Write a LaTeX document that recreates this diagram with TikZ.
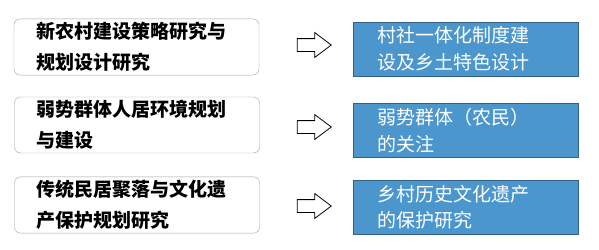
\documentclass[tikz,border=0pt]{standalone}
\usepackage{fontspec}
\usepackage{tikz}
\usetikzlibrary{shapes.arrows}
\newfontfamily\cjk{Noto Sans CJK SC}
\definecolor{boxblue}{RGB}{76,150,206}
\definecolor{boxedge}{RGB}{52,96,136}
\definecolor{topicgray}{RGB}{160,160,160}

\begin{document}
\begin{tikzpicture}[x=1pt,y=-1pt,
    topic/.style={draw=topicgray,rounded corners=6pt,minimum width=245pt,minimum height=56pt,
      text width=201pt,inner xsep=22pt,align=left,font=\cjk\bfseries\fontsize{19}{23}\selectfont,
      execute at begin node={\vspace*{8pt}}},
    focus/.style={draw=boxedge,fill=boxblue,minimum width=225pt,minimum height=54pt,
      text width=177pt,inner xsep=24pt,align=left,text=white,font=\cjk\fontsize{19}{22.5}\selectfont,
      execute at begin node={\vspace*{4pt}}},
    goes/.style={draw=black,thick,single arrow,minimum height=34pt,inner xsep=0pt,inner ysep=6pt,
      single arrow head extend=6pt,single arrow tip angle=74}]
    \useasboundingbox (0,0) rectangle (599,249);

    % Research topics
    \node[topic] (t1) at (136.5,47) {新农村建设策略研究与\\规划设计研究};
    \node[topic] (t2) at (137,125) {弱势群体人居环境规划\\与建设};
    \node[topic] (t3) at (137,205) {传统民居聚落与文化遗\\产保护规划研究};

    % Focus
    \node[focus,execute at begin node={}] (f1) at (465.5,49) {村社一体化制度建\\设及乡土特色设计};
    \node[focus] (f2) at (465.5,130.5) {弱势群体（农民）\\的关注};
    \node[focus] (f3) at (465.5,207) {乡村历史文化遗产\\的保护研究};

    % Block arrows
    \node[goes] (a1) at (310,45) {};
    \node[goes] (a2) at (310,127) {};
    \node[goes] (a3) at (310,206) {};
  \end{tikzpicture}
\end{document}
